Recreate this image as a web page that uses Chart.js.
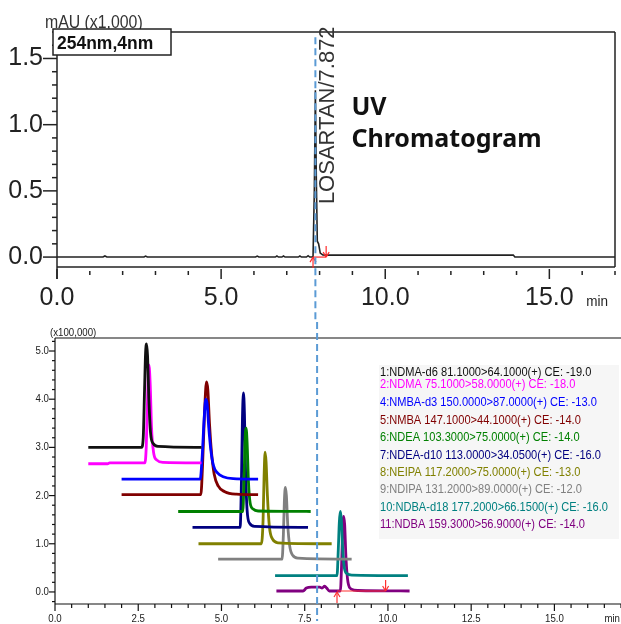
<!DOCTYPE html>
<html>
<head>
<meta charset="utf-8">
<script src="https://cdn.jsdelivr.net/npm/chart.js@4.4.0/dist/chart.umd.min.js"></script>
<style>
  body { margin: 0; background: #fff; }
  #wrap { position: relative; width: 621px; height: 624px; }
  #uvChart { position: absolute; left: 0; top: 0; }
  #msChart { position: absolute; left: 0; top: 322px; }
</style>
</head>
<body>
<div id="wrap">
  <canvas id="uvChart" width="621" height="322"></canvas>
  <canvas id="msChart" width="621" height="302"></canvas>
</div>
<script>
// ---- UV chromatogram (mAU x1,000 vs min) ----
var uvTime = [0, 1.4, 1.46, 1.52, 2.65, 2.7, 2.75, 6.05, 6.1, 6.15, 6.65, 6.7, 6.75, 6.85, 6.9, 6.95,
              7.35, 7.4, 7.45, 7.6, 7.65, 7.7, 7.8, 7.84, 7.872, 7.9, 7.93, 7.97, 8.02, 8.1, 8.2, 13.9, 13.95, 17];
var uvAbs  = [0, 0, 0.008, 0, 0, 0.007, 0, 0, 0.007, 0, 0, 0.008, 0, 0, 0.008, 0,
              0, 0.008, 0, 0, 0.01, 0, 0, 0.5, 1.26, 0.6, 0.12, 0.1, 0.03, 0.016, 0.015, 0.015, 0, 0];
var uvPeakName = 'LOSARTAN/7.872';
var uvPeakRt = 7.872;
var uvPeakMarks = [7.8, 8.2];
var cursorTop = 1.66;

// ---- MRM chromatograms (x100,000 vs min) ----
var msLabels = [
  '1:NDMA-d6 81.1000>64.1000(+) CE: -19.0',
  '2:NDMA 75.1000>58.0000(+) CE: -18.0',
  '4:NMBA-d3 150.0000>87.0000(+) CE: -13.0',
  '5:NMBA 147.1000>44.1000(+) CE: -14.0',
  '6:NDEA 103.3000>75.0000(+) CE: -14.0',
  '7:NDEA-d10 113.0000>34.0500(+) CE: -16.0',
  '8:NEIPA 117.2000>75.0000(+) CE: -13.0',
  '9:NDIPA 131.2000>89.0000(+) CE: -12.0',
  '10:NDBA-d18 177.2000>66.1500(+) CE: -16.0',
  '11:NDBA 159.3000>56.9000(+) CE: -14.0'
];
var ndmaD6T = [1.0, 2.6, 2.65, 2.69, 2.72, 2.75, 2.78, 2.82, 2.87, 2.95, 3.1, 4.4];
var ndmaD6Y = [3.0, 3.0, 3.2, 4.2, 4.95, 5.15, 4.9, 4.0, 3.3, 3.08, 3.02, 3.0];
var ndmaT = [1.0, 1.58, 1.64, 2.7, 2.74, 2.78, 2.82, 2.86, 2.9, 2.96, 3.05, 3.25, 4.4];
var ndmaY = [2.66, 2.66, 2.68, 2.68, 3.0, 4.0, 4.71, 4.3, 3.4, 2.9, 2.74, 2.69, 2.68];
var nmbaD3T = [2.0, 4.36, 4.42, 4.48, 4.53, 4.57, 4.62, 4.68, 4.76, 4.88, 5.05, 5.35, 6.1];
var nmbaD3Y = [2.34, 2.34, 2.8, 3.6, 4.0, 3.9, 3.4, 2.95, 2.62, 2.47, 2.39, 2.35, 2.34];
var nmbaT = [2.0, 4.38, 4.43, 4.49, 4.55, 4.59, 4.64, 4.7, 4.78, 4.9, 5.1, 5.45, 6.1];
var nmbaY = [2.02, 2.02, 2.6, 3.7, 4.36, 4.2, 3.5, 2.9, 2.45, 2.2, 2.08, 2.03, 2.02];
var ndeaT = [3.7, 5.64, 5.68, 5.71, 5.74, 5.77, 5.81, 5.86, 5.95, 6.1, 7.68];
var ndeaY = [1.67, 1.67, 2.4, 3.2, 3.4, 3.1, 2.3, 1.85, 1.72, 1.68, 1.67];
var ndeaD10T = [4.13, 5.56, 5.6, 5.63, 5.66, 5.69, 5.72, 5.77, 5.85, 6.0, 7.6];
var ndeaD10Y = [1.34, 1.34, 2.3, 3.6, 4.13, 3.7, 2.6, 1.7, 1.42, 1.36, 1.34];
var neipaT = [4.31, 6.2, 6.25, 6.28, 6.31, 6.34, 6.38, 6.44, 6.53, 6.7, 8.31];
var neipaY = [1.0, 1.0, 1.5, 2.4, 2.9, 2.7, 2.0, 1.35, 1.1, 1.02, 1.0];
var ndipaT = [4.9, 6.82, 6.86, 6.89, 6.92, 6.95, 6.99, 7.05, 7.14, 7.3, 8.91];
var ndipaY = [0.68, 0.68, 1.2, 1.9, 2.17, 2.0, 1.4, 0.95, 0.76, 0.7, 0.68];
var ndbaD18T = [6.61, 8.47, 8.51, 8.54, 8.57, 8.6, 8.64, 8.69, 8.77, 8.92, 10.6];
var ndbaD18Y = [0.34, 0.34, 0.9, 1.45, 1.67, 1.5, 0.9, 0.5, 0.38, 0.35, 0.34];
var ndbaT = [6.65, 7.45, 7.55, 7.7, 7.95, 8.02, 8.1, 8.16, 8.24, 8.57, 8.61, 8.64, 8.67, 8.7, 8.74, 8.8, 8.9, 9.1, 10.65];
var ndbaY = [0.02, 0.02, 0.08, 0.1, 0.1, 0.08, 0.12, 0.08, 0.02, 0.02, 0.6, 1.3, 1.57, 1.4, 0.7, 0.2, 0.06, 0.03, 0.02];
var ndbaMarks = [8.47, 9.93];

var msColors = ['#111111', '#ff00ff', '#0000ff', '#800000', '#008000', '#000080', '#808000', '#808080', '#008080', '#800080'];
var msTraces = [[ndmaD6T, ndmaD6Y], [ndmaT, ndmaY], [nmbaD3T, nmbaD3Y], [nmbaT, nmbaY], [ndeaT, ndeaY],
                [ndeaD10T, ndeaD10Y], [neipaT, neipaY], [ndipaT, ndipaY], [ndbaD18T, ndbaD18Y], [ndbaT, ndbaY]];

function pts(t, y) {
  return t.map(function(v, i) { return { x: v, y: y[i] }; });
}
function isStep(v, step) {
  return Math.abs(v / step - Math.round(v / step)) < 1e-6;
}
// tick values of a scale at a given step (own list, so none get dropped near the bounds)
function stepValues(scale, step) {
  var out = [], first = Math.ceil(scale.min / step - 1e-9);
  for (var i = first; i * step <= scale.max + 1e-9; i++) out.push(Math.round(i * step * 1e6) / 1e6);
  return out;
}
function squish(ctx, text, x, y, sx, align) {
  ctx.save();
  ctx.translate(x, y);
  ctx.scale(sx, 1);
  ctx.textAlign = align || 'left';
  ctx.fillText(text, 0, 0);
  ctx.restore();
}
function line(ctx, x1, y1, x2, y2) {
  ctx.beginPath(); ctx.moveTo(x1, y1); ctx.lineTo(x2, y2); ctx.stroke();
}
function xTicks(ctx, scale, y0, step, major, minorLen, majorLen, off) {
  stepValues(scale, step).forEach(function(v) {
    var px = scale.getPixelForValue(v);
    if (isStep(v, major)) line(ctx, px, y0, px, y0 + majorLen);
    else line(ctx, px, y0 + off, px, y0 + off + minorLen);
  });
}
function yTicks(ctx, scale, x0, step, major, minorLen, majorLen) {
  stepValues(scale, step).forEach(function(v) {
    var py = scale.getPixelForValue(v);
    line(ctx, x0 - (isStep(v, major) ? majorLen : minorLen), py, x0, py);
  });
}
function arrow(ctx, x, y, dir) {
  // dir = -1 : pointing up with tip at y ; dir = 1 : pointing down with tip at y
  line(ctx, x, y, x, y - dir * 11);
  line(ctx, x, y, x - 3, y - dir * 5);
  line(ctx, x, y, x + 3, y - dir * 5);
}
function cursor(ctx, x, y1, y2) {
  ctx.save();
  ctx.strokeStyle = '#5b9bd5';
  ctx.lineWidth = 2;
  ctx.setLineDash([7, 4]);
  line(ctx, x, y1, x, y2);
  ctx.restore();
}

var uvDecor = {
  id: 'uvDecor',
  afterDraw: function(chart) {
    var ctx = chart.ctx, a = chart.chartArea, xs = chart.scales.x, ys = chart.scales.y;
    ctx.save();
    ctx.strokeStyle = '#222';
    ctx.lineWidth = 1.5;
    line(ctx, a.left, a.top, a.left, a.bottom + 12);
    line(ctx, a.left, a.top, a.right, a.top);
    line(ctx, a.right, a.top, a.right, a.bottom);
    line(ctx, a.left, a.bottom, a.right, a.bottom);
    xTicks(ctx, xs, a.bottom + 2, 1, 5, 4, 10, 2);
    yTicks(ctx, ys, a.left, 0.1, 0.5, 5, 14);

    ctx.fillStyle = '#222';
    ctx.font = '25px Arial';
    ctx.textBaseline = 'middle';
    stepValues(xs, 5).forEach(function(v) {
      squish(ctx, v.toFixed(1), xs.getPixelForValue(v), a.bottom + 31, 1, 'center');
    });
    stepValues(ys, 0.5).forEach(function(v) {
      squish(ctx, v.toFixed(1), a.left - 14, ys.getPixelForValue(v), 1, 'right');
    });
    ctx.font = '15px Arial';
    squish(ctx, 'min', xs.getPixelForValue(15) + 37, a.bottom + 35, 0.9, 'left');

    // unit label and channel box
    ctx.textBaseline = 'alphabetic';
    ctx.font = '18px Arial';
    ctx.fillStyle = '#333';
    squish(ctx, 'mAU (x1,000)', a.left - 12, 28, 0.88, 'left');
    ctx.fillStyle = '#fff';
    ctx.fillRect(a.left - 4, a.top - 3, 118, 26);
    ctx.strokeRect(a.left - 4, a.top - 3, 118, 26);
    ctx.fillStyle = '#111';
    ctx.font = 'bold 19px Arial';
    squish(ctx, '254nm,4nm', a.left, a.top + 17, 0.92, 'left');

    // integration marks
    var y0 = ys.getPixelForValue(0);
    ctx.strokeStyle = '#ff2a2a';
    ctx.lineWidth = 1.2;
    line(ctx, xs.getPixelForValue(uvPeakMarks[0]), y0, xs.getPixelForValue(uvPeakMarks[1]), y0);
    arrow(ctx, xs.getPixelForValue(uvPeakMarks[0]), y0, -1);
    arrow(ctx, xs.getPixelForValue(uvPeakMarks[1]), y0, 1);

    // peak label
    var px = xs.getPixelForValue(uvPeakRt);
    ctx.save();
    ctx.translate(px + 19, ys.getPixelForValue(0.4));
    ctx.rotate(-Math.PI / 2);
    ctx.fillStyle = '#333';
    ctx.font = '22px Arial';
    ctx.fillText(uvPeakName, 0, 0);
    ctx.restore();

    // annotation
    ctx.fillStyle = '#111';
    ctx.font = 'bold 25px "Noto Sans"';
    ctx.fillText('UV', px + 36, 115);
    ctx.fillText('Chromatogram', px + 36, 147);

    cursor(ctx, px, ys.getPixelForValue(cursorTop), chart.height);
    ctx.restore();
  }
};

var msDecor = {
  id: 'msDecor',
  beforeDatasetsDraw: function(chart) {
    var ctx = chart.ctx;
    ctx.save();
    ctx.fillStyle = '#f6f6f6';
    ctx.fillRect(379, 43, 240, 174);
    ctx.font = '12.6px Arial';
    ctx.textBaseline = 'middle';
    msLabels.forEach(function(s, i) {
      ctx.fillStyle = msColors[i];
      var y = i === 0 ? 51 : (i === 1 ? 63 : 81 + (i - 2) * 17.4);
      squish(ctx, s, 380, y, 0.88, 'left');
    });
    ctx.restore();
  },
  afterDraw: function(chart) {
    var ctx = chart.ctx, a = chart.chartArea, xs = chart.scales.x, ys = chart.scales.y;
    ctx.save();
    ctx.strokeStyle = '#111';
    ctx.lineWidth = 1.2;
    line(ctx, a.left, a.top, a.right, a.top);
    line(ctx, a.left, a.top, a.left, a.bottom);
    line(ctx, a.left, a.bottom, a.right, a.bottom);
    xTicks(ctx, xs, a.bottom, 0.5, 2.5, 4, 7, 0);
    yTicks(ctx, ys, a.left, 0.2, 1, 3, 6);

    ctx.fillStyle = '#222';
    ctx.font = '11px Arial';
    ctx.textBaseline = 'middle';
    stepValues(xs, 2.5).forEach(function(v) {
      squish(ctx, v.toFixed(1), xs.getPixelForValue(v), a.bottom + 15, 0.88, 'center');
    });
    stepValues(ys, 1).forEach(function(v) {
      squish(ctx, v.toFixed(1), a.left - 6, ys.getPixelForValue(v), 0.88, 'right');
    });
    squish(ctx, 'min', a.right - 1, a.bottom + 15, 0.88, 'right');
    squish(ctx, '(x100,000)', a.left - 5, a.top - 5, 0.88, 'left');

    var y0 = ys.getPixelForValue(ndbaY[0]);
    ctx.strokeStyle = '#ff3030';
    ctx.lineWidth = 1.2;
    line(ctx, xs.getPixelForValue(ndbaMarks[0]), y0, xs.getPixelForValue(ndbaMarks[1]), y0);
    arrow(ctx, xs.getPixelForValue(ndbaMarks[0]), y0 + 1, -1);
    arrow(ctx, xs.getPixelForValue(ndbaMarks[1]), y0, 1);

    cursor(ctx, xs.getPixelForValue(uvPeakRt), 0, chart.height - 3);
    ctx.restore();
  }
};

function axes(xmin, xmax, xstep, ymin, ymax, ystep, xh, yw) {
  return {
    x: { type: 'linear', min: xmin, max: xmax,
         ticks: { display: false, stepSize: xstep, autoSkip: false },
         grid: { display: false }, border: { display: false },
         afterFit: function(s) { s.height = xh; } },
    y: { type: 'linear', min: ymin, max: ymax,
         ticks: { display: false, stepSize: ystep, autoSkip: false },
         grid: { display: false }, border: { display: false },
         afterFit: function(s) { s.width = yw; } }
  };
}

new Chart(document.getElementById('uvChart').getContext('2d'), {
  type: 'line',
  data: {
    datasets: [{
      data: pts(uvTime, uvAbs),
      borderColor: '#222',
      borderWidth: 1.6,
      pointRadius: 0,
      tension: 0
    }]
  },
  options: {
    responsive: false,
    animation: false,
    events: [],
    layout: { padding: { left: 0, top: 32, right: 6, bottom: 0 } },
    plugins: { legend: { display: false }, tooltip: { enabled: false } },
    scales: axes(0, 17, 1, -0.075, 1.7, 0.1, 55, 57)
  },
  plugins: [uvDecor]
});

new Chart(document.getElementById('msChart').getContext('2d'), {
  type: 'line',
  data: {
    datasets: msTraces.map(function(tr, i) {
      return {
        label: msLabels[i],
        data: pts(tr[0], tr[1]),
        borderColor: msColors[i],
        borderWidth: 2.8,
        pointRadius: 0,
        cubicInterpolationMode: 'monotone'
      };
    })
  },
  options: {
    responsive: false,
    animation: false,
    events: [],
    layout: { padding: { left: 0, top: 16, right: 0, bottom: 0 } },
    plugins: { legend: { display: false }, tooltip: { enabled: false } },
    scales: axes(0, 17, 0.5, -0.25, 5.27, 0.2, 20, 55)
  },
  plugins: [msDecor]
});
</script>
</body>
</html>
